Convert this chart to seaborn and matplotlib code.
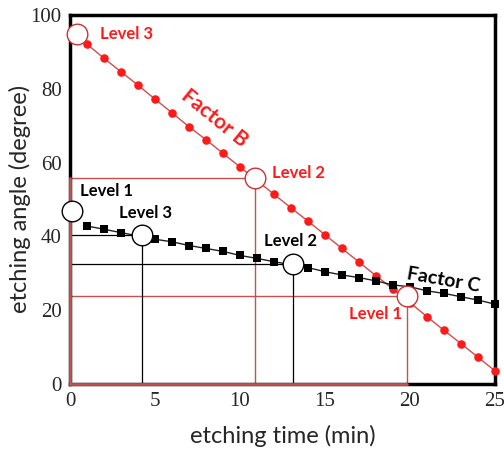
import matplotlib
matplotlib.use("Agg")
import matplotlib.pyplot as plt
from matplotlib.ticker import MultipleLocator
import seaborn as sns
import pandas as pd

# ---- data ----
time_min = list(range(1, 26))
factor_b = [92.1, 88.3, 84.6, 81.0, 77.2, 73.5, 69.7, 66.2, 62.5, 58.8,
            55.1, 51.4, 47.7, 44.1, 40.4, 36.7, 33.0, 29.3, 25.7, 22.0,
            18.2, 14.5, 10.9, 7.2, 3.5]
factor_c = [42.8, 41.9, 41.0, 40.1, 39.2, 38.5, 37.5, 36.7, 35.9, 34.8,
            34.0, 33.1, 32.3, 31.5, 30.4, 29.5, 28.8, 27.9, 26.8, 26.3,
            25.2, 24.5, 23.6, 22.7, 21.6]

b_levels = ["Level 3", "Level 2", "Level 1"]
b_level_x = [0.39, 10.9, 19.85]
b_level_y = [94.8, 55.7, 23.7]
b_guides = [False, True, True]

c_levels = ["Level 1", "Level 3", "Level 2"]
c_level_x = [0.14, 4.25, 13.1]
c_level_y = [46.9, 40.3, 32.6]
c_guides = [False, True, True]

x_ticks = [0, 5, 10, 15, 20, 25]
y_ticks = [0, 20, 40, 60, 80, 100]

RED = "#ff1a1a"
GUIDE_RED = "#c8504f"

sns.set_style("white")
plt.rcParams['font.family'] = ['Lato', 'DejaVu Sans']

fig, ax = plt.subplots(figsize=(5.04, 4.59), dpi=100)
fig.subplots_adjust(left=0.139, right=0.982, bottom=0.164, top=0.967)

# guide lines
for x, y, g in zip(b_level_x, b_level_y, b_guides):
    if g:
        ax.plot([0, x], [y, y], color=GUIDE_RED, lw=1.0, zorder=1)
        ax.plot([x, x], [0, y], color=GUIDE_RED, lw=1.0, zorder=1)
for x, y, g in zip(c_level_x, c_level_y, c_guides):
    if g:
        ax.plot([0, x], [y, y], color="black", lw=0.9, zorder=1)
        ax.plot([x, x], [0, y], color="black", lw=0.9, zorder=1)
ax.plot([0, b_level_x[2]], [0, 0], color=GUIDE_RED, lw=2.0, zorder=4, clip_on=False)
ax.plot([0, 0], [0, b_level_y[1]], color=GUIDE_RED, lw=2.0, zorder=4, clip_on=False)

df_b = pd.DataFrame({"t": [0.39] + time_min, "angle": [94.8] + factor_b})
df_c = pd.DataFrame({"t": time_min, "angle": factor_c})

sns.lineplot(data=df_b, x="t", y="angle", color="#d84a4a", lw=1.0, ax=ax, zorder=2)
sns.scatterplot(data=df_b.iloc[1:], x="t", y="angle", color=RED, s=38,
                edgecolor=RED, linewidth=0, marker="o", ax=ax, zorder=3, clip_on=False)
sns.lineplot(data=df_c, x="t", y="angle", color="#222222", lw=1.0, ax=ax, zorder=2)
sns.scatterplot(data=df_c, x="t", y="angle", color="black", s=30,
                marker="s", linewidth=0, ax=ax, zorder=3, clip_on=False)

# level circles
ax.scatter(b_level_x, b_level_y, s=220, facecolor="white", edgecolor="#d03030",
           linewidth=1.0, zorder=5, clip_on=False)
ax.scatter(c_level_x, c_level_y, s=220, facecolor="white", edgecolor="black",
           linewidth=1.0, zorder=5, clip_on=False)

# annotations
tk = dict(fontsize=12, fontweight="bold")
ax.text(1.77, 95.0, "Level 3", color=RED, ha="left", va="center", **tk)
ax.text(11.9, 57.3, "Level 2", color=RED, ha="left", va="center", **tk)
ax.text(16.43, 18.8, "Level 1", color=RED, ha="left", va="center", **tk)
ax.text(0.59, 52.2, "Level 1", color="black", ha="left", va="center", **tk)
ax.text(2.89, 46.3, "Level 3", color="black", ha="left", va="center", **tk)
ax.text(11.43, 38.7, "Level 2", color="black", ha="left", va="center", **tk)
ax.text(8.5, 72.0, "Factor B", color=RED, ha="center", va="center",
        rotation=-39, fontsize=15, fontweight="bold")
ax.text(21.95, 28.2, "Factor C", color="black", ha="center", va="center",
        rotation=-10, fontsize=14, fontweight="bold")

ax.set_xlim(0, 25)
ax.set_ylim(0, 100)
ax.set_xticks(x_ticks)
ax.set_yticks(y_ticks)
ax.xaxis.set_minor_locator(MultipleLocator(2.5))
ax.yaxis.set_minor_locator(MultipleLocator(10))
ax.tick_params(which="major", direction="in", length=6, width=2, top=False, right=False)
ax.tick_params(which="minor", direction="in", length=4, width=1.5, top=False, right=False)
for lab in ax.get_xticklabels() + ax.get_yticklabels():
    lab.set_fontfamily("Liberation Serif")
    lab.set_fontsize(15)
ax.tick_params(axis="x", pad=6)
ax.tick_params(axis="y", pad=6)

for sp in ax.spines.values():
    sp.set_visible(True)
    sp.set_color("black")
    sp.set_linewidth(2.5)

ax.set_xlabel("etching time (min)", fontsize=17, labelpad=10)
ax.set_ylabel("etching angle (degree)", fontsize=17, labelpad=0)

fig.savefig("out.png", dpi=100)
